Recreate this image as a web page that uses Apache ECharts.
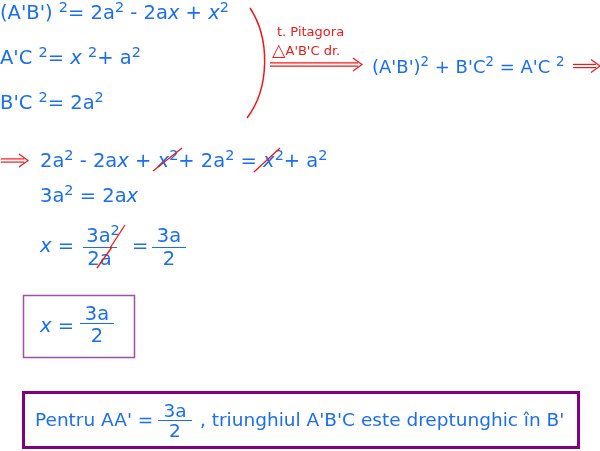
<!DOCTYPE html>
<html><head><meta charset="utf-8">
<script src="https://cdn.jsdelivr.net/npm/echarts@6/dist/echarts.min.js"></script>
<style>html,body{margin:0;padding:0;background:#fff}#c{width:600px;height:451px}</style>
</head><body><div id="c"></div>
<script>
// Text content (markup: {i|x} italic x, {s|2} superscript, {b|△} enlarged symbol)
const givenLines = ["(A'B') {s|2}= 2a{s|2} - 2a{i|x} + {i|x}{s|2}", "A'C {s|2}= {i|x} {s|2}+ a{s|2}", "B'C {s|2}= 2a{s|2}"];
const theoremLabel = ["t. Pitagora", "{b|△}A'B'C dr."];
const pythagoras = "(A'B'){s|2} + B'C{s|2} = A'C {s|2}";
const stepLines = ["2a{s|2} - 2a{i|x} + {i|x}{s|2}+ 2a{s|2} = {i|x}{s|2}+ a{s|2}", "3a{s|2} = 2a{i|x}"];
const solveLhs = "{i|x} =";
const frac1 = ["3a{s|2}", "2a"];
const frac2 = ["3a", "2"];
const resultLhs = "{i|x} =";
const resultFrac = ["3a", "2"];
const conclusion = ["Pentru AA' =", "3a", "2", ", triunghiul A'B'C este dreptunghic în B'"];

const BLUE = '#1a6ff0', RED = '#f01818', FONT = 'DejaVu Sans';
const mctx = document.createElement('canvas').getContext('2d');
function measure(t, size, italic) { mctx.font = (italic ? 'italic ' : 'normal ') + 'normal ' + size + 'px "' + FONT + '"'; return mctx.measureText(t).width; }
function parse(str) {
  const out = []; const re = /\{(\w)\|([^}]*)\}/g; let last = 0, m;
  while ((m = re.exec(str))) { if (m.index > last) out.push({ k: 'n', t: str.slice(last, m.index) }); out.push({ k: m[1], t: m[2] }); last = re.lastIndex; }
  if (last < str.length) out.push({ k: 'n', t: str.slice(last) });
  return out;
}
// write a formatted line whose baseline is at `base`
function T(x, base, str, size, color, align) {
  const segs = parse(str).map(s => {
    const sz = s.k === 's' ? 0.74 * size : (s.k === 'b' ? 1.35 * size : size);
    return Object.assign(s, { sz, w: measure(s.t, sz, s.k === 'i') });
  });
  const total = segs.reduce((a, s) => a + s.w, 0);
  let cur = align === 'center' ? x - total / 2 : x;
  const res = [];
  segs.forEach(s => {
    const b = s.k === 's' ? base - 0.38 * size : (s.k === 'b' ? base + 0.1 * size : base);
    res.push({ type: 'text', x: cur, y: b - 0.32 * s.sz,
      style: { text: s.t, fontSize: s.sz, fontFamily: FONT, fontStyle: s.k === 'i' ? 'italic' : 'normal',
        fill: color, align: 'left', verticalAlign: 'middle' } });
    cur += s.w;
  });
  return res;
}
function L(x1, y1, x2, y2, color, w) {
  return { type: 'line', shape: { x1, y1, x2, y2 }, style: { stroke: color, lineWidth: w || 1.5 } };
}
function P(points, color, w) {
  return { type: 'polyline', shape: { points }, style: { stroke: color, lineWidth: w || 1.5, fill: null } };
}
function dblArrow(x1, x2, y, color) {
  return [L(x1, y - 1.6, x2 - 4, y - 1.6, color, 1.2), L(x1, y + 1.6, x2 - 4, y + 1.6, color, 1.2),
    P([[x2 - 9, y - 6.5], [x2, y], [x2 - 9, y + 6.5]], color, 1.2)];
}

const S = 19.5;
const els = [];
// given equations
els.push(...T(0, 20, givenLines[0], S, BLUE));
els.push(...T(0, 65, givenLines[1], S, BLUE));
els.push(...T(0, 110, givenLines[2], S, BLUE));
// bracket
els.push({ type: 'bezierCurve', shape: { x1: 250, y1: 8, cpx1: 270, cpy1: 38, cpx2: 270, cpy2: 88, x2: 247, y2: 118 },
  style: { stroke: RED, lineWidth: 1.5, fill: null } });
els.push(...T(277, 37, theoremLabel[0], 13, RED));
els.push(...T(272, 56, theoremLabel[1], 13, RED));
els.push(...dblArrow(270, 362, 64.5, RED));
els.push(...T(372, 74, pythagoras, 18, BLUE));
els.push(...dblArrow(573, 600, 66, RED));
// step
els.push(...dblArrow(1, 28, 160.5, RED));
els.push(...T(40, 168, stepLines[0], S, BLUE));
els.push(L(153, 171, 182, 148, RED, 1.3));
els.push(L(254, 172, 280, 148, RED, 1.3));
els.push(...T(40, 203, stepLines[1], S, BLUE));
// solve
els.push(...T(40, 253, solveLhs, S, BLUE));
els.push(...T(103, 243, frac1[0], S, BLUE, 'center'));
els.push(L(83, 247.5, 117, 247.5, BLUE, 1.2));
els.push(...T(99.5, 266.5, frac1[1], S, BLUE, 'center'));
els.push(L(110, 248, 125, 225, RED, 1.3));
els.push(L(97, 268, 112, 247, RED, 1.3));
els.push(...T(132, 253, '=', S, BLUE));
els.push(...T(169, 243, frac2[0], S, BLUE, 'center'));
els.push(L(152, 247.5, 186, 247.5, BLUE, 1.2));
els.push(...T(169, 266.5, frac2[1], S, BLUE, 'center'));
// result box
els.push({ type: 'rect', shape: { x: 23.5, y: 295.5, width: 111, height: 62 }, style: { stroke: '#a050a8', lineWidth: 1.5, fill: null } });
els.push(...T(40, 333, resultLhs, S, BLUE));
els.push(...T(97, 321.5, resultFrac[0], S, BLUE, 'center'));
els.push(L(80, 323.5, 114, 323.5, BLUE, 1.2));
els.push(...T(97, 343, resultFrac[1], S, BLUE, 'center'));
// conclusion box
const C = 18.5;
els.push({ type: 'rect', shape: { x: 23.5, y: 392.5, width: 555, height: 55 }, style: { stroke: '#800080', lineWidth: 3, fill: null } });
els.push(...T(35, 427, conclusion[0], C, BLUE));
els.push(...T(175, 418.5, conclusion[1], C, BLUE, 'center'));
els.push(L(158, 420.5, 192, 420.5, BLUE, 1.2));
els.push(...T(175, 438, conclusion[2], C, BLUE, 'center'));
els.push(...T(200, 427, conclusion[3], C, BLUE));

const chart = echarts.init(document.getElementById('c'), null, { renderer: 'canvas' });
chart.setOption({ backgroundColor: '#fff', animation: false, graphic: { elements: els } });
</script></body></html>
